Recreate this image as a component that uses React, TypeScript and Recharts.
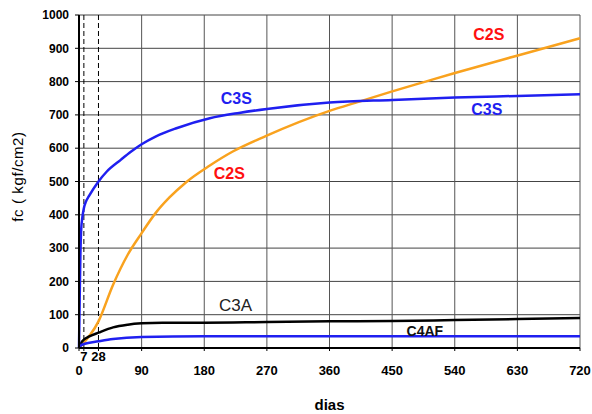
import {
  LineChart,
  Line,
  XAxis,
  YAxis,
  CartesianGrid,
  ReferenceLine,
  ReferenceDot,
} from "recharts";

// dias (x) / fc kgf/cm2 (y)
const c3sDays = [0, 1, 2, 3, 5, 7, 10, 14, 28, 40, 60, 75, 90, 110, 140, 188, 230, 270, 360, 450, 540, 630, 720];
const c3sFc = [0, 150, 280, 350, 395, 420, 440, 455, 500, 530, 565, 590, 612, 635, 660, 690, 706, 718, 737, 745, 752, 757, 762];

const c2sDays = [0, 28, 49, 70, 90, 110, 130, 154, 188, 221, 269, 360, 403, 449, 498, 539, 628, 720];
const c2sFc = [0, 80, 190, 280, 345, 405, 452, 498, 548, 590, 637, 712, 740, 770, 800, 825, 877, 930];

const c3aDays = [0, 3, 7, 14, 28, 49, 70, 90, 120, 180, 270, 360, 450, 540, 630, 720];
const c3aFc = [0, 15, 25, 34, 46, 62, 70, 74, 76, 76, 78, 80, 81, 84, 87, 90];

const c4afDays = [0, 3, 7, 28, 49, 90, 180, 720];
const c4afFc = [0, 8, 12, 20, 27, 33, 35, 35];

const xTicks = [0, 7, 28, 90, 180, 270, 360, 450, 540, 630, 720];
const earlyTicks = [7, 28];
const xGrid = [90, 180, 270, 360, 450, 540, 630, 720];
const yTicks = [0, 100, 200, 300, 400, 500, 600, 700, 800, 900, 1000];

const font = '"Liberation Sans", Arial, sans-serif';
const BLUE = "#1f1ff0";
const ORANGE = "#f9a21e";

const toRows = (days: number[], fc: number[]) => days.map((d, i) => ({ day: d, fc: fc[i] }));

const c3s = toRows(c3sDays, c3sFc);
const c2s = toRows(c2sDays, c2sFc);
const c3a = toRows(c3aDays, c3aFc);
const c4af = toRows(c4afDays, c4afFc);

const DayTick = (props: any) => {
  const { x, y, payload } = props;
  const early = earlyTicks.includes(payload.value);
  return (
    <text
      x={x}
      y={early ? y + 9 : y + 23}
      textAnchor="middle"
      fontFamily={font}
      fontWeight="bold"
      fontSize={13}
      fill="#000"
    >
      {payload.value}
    </text>
  );
};

const tag = (text: string, color: string, size: number, weight: string) => ({
  content: (p: any) => {
    const vb = p.viewBox;
    return (
      <text
        x={vb.x + vb.width / 2}
        y={vb.y + vb.height / 2}
        dy="0.36em"
        textAnchor="middle"
        fontFamily={font}
        fontSize={size}
        fontWeight={weight}
        fill={color}
      >
        {text}
      </text>
    );
  },
});

const App = () => {
  return (
    <div style={{ position: "absolute", left: 0, top: 0, width: 592, height: 414, background: "#fff" }}>
      <LineChart width={592} height={414} margin={{ top: 15, right: 12, bottom: 36, left: 0 }}>
        <CartesianGrid vertical={false} stroke="#444" />
        <XAxis
          type="number"
          dataKey="day"
          domain={[0, 720]}
          ticks={xTicks}
          interval={0}
          height={30}
          tickSize={3}
          tickMargin={1}
          tick={<DayTick />}
          axisLine={{ stroke: "#000", strokeWidth: 2 }}
          tickLine={{ stroke: "#000" }}
          label={{
            content: (p: any) => {
              const vb = p.viewBox;
              return (
                <text
                  x={vb.x + vb.width / 2}
                  y={vb.y + vb.height + 32}
                  textAnchor="middle"
                  fontFamily={font}
                  fontWeight="bold"
                  fontSize={15}
                  fill="#000"
                >
                  dias
                </text>
              );
            },
          }}
        />
        <YAxis
          type="number"
          domain={[0, 1000]}
          ticks={yTicks}
          interval={0}
          width={79}
          tickSize={4}
          tickMargin={6}
          tick={{ fontFamily: font, fontWeight: "bold", fontSize: 12, fill: "#000" }}
          axisLine={{ stroke: "#000", strokeWidth: 2 }}
          tickLine={{ stroke: "#000" }}
          label={{
            content: (p: any) => {
              const vb = p.viewBox;
              const cy = vb.y + vb.height / 2 - 5;
              return (
                <text
                  x={23}
                  y={cy}
                  transform={`rotate(-90, 23, ${cy})`}
                  textAnchor="middle"
                  fontFamily={font}
                  fontSize={15}
                  letterSpacing={0.6}
                  fill="#000"
                >
                  fc  ( kgf/cm2)
                </text>
              );
            },
          }}
        />
        {xGrid.map((d) => (
          <ReferenceLine key={d} x={d} stroke="#555" />
        ))}
        {earlyTicks.map((d) => (
          <ReferenceLine key={"e" + d} x={d} stroke="#000" strokeDasharray="5 3" />
        ))}
        <Line data={c2s} dataKey="fc" type="monotone" stroke={ORANGE} strokeWidth={2.5} dot={false} isAnimationActive={false} />
        <Line data={c3a} dataKey="fc" type="monotone" stroke="#000" strokeWidth={2.5} dot={false} isAnimationActive={false} />
        <Line data={c4af} dataKey="fc" type="monotone" stroke={BLUE} strokeWidth={2.5} dot={false} isAnimationActive={false} />
        <Line data={c3s} dataKey="fc" type="monotone" stroke={BLUE} strokeWidth={2.5} dot={false} isAnimationActive={false} />
        <ReferenceDot x={226} y={750} r={1} fill="none" stroke="none" label={tag("C3S", BLUE, 16, "bold")} />
        <ReferenceDot x={586} y={716} r={1} fill="none" stroke="none" label={tag("C3S", BLUE, 16, "bold")} />
        <ReferenceDot x={589} y={943} r={1} fill="none" stroke="none" label={tag("C2S", "#ff1010", 16, "bold")} />
        <ReferenceDot x={216} y={525} r={1} fill="none" stroke="none" label={tag("C2S", "#ff1010", 16, "bold")} />
        <ReferenceDot x={225} y={130} r={1} fill="none" stroke="none" label={tag("C3A", "#222", 17, "normal")} />
        <ReferenceDot x={497} y={52} r={1} fill="none" stroke="none" label={tag("C4AF", "#111", 14, "bold")} />
      </LineChart>
    </div>
  );
};

export default App;
